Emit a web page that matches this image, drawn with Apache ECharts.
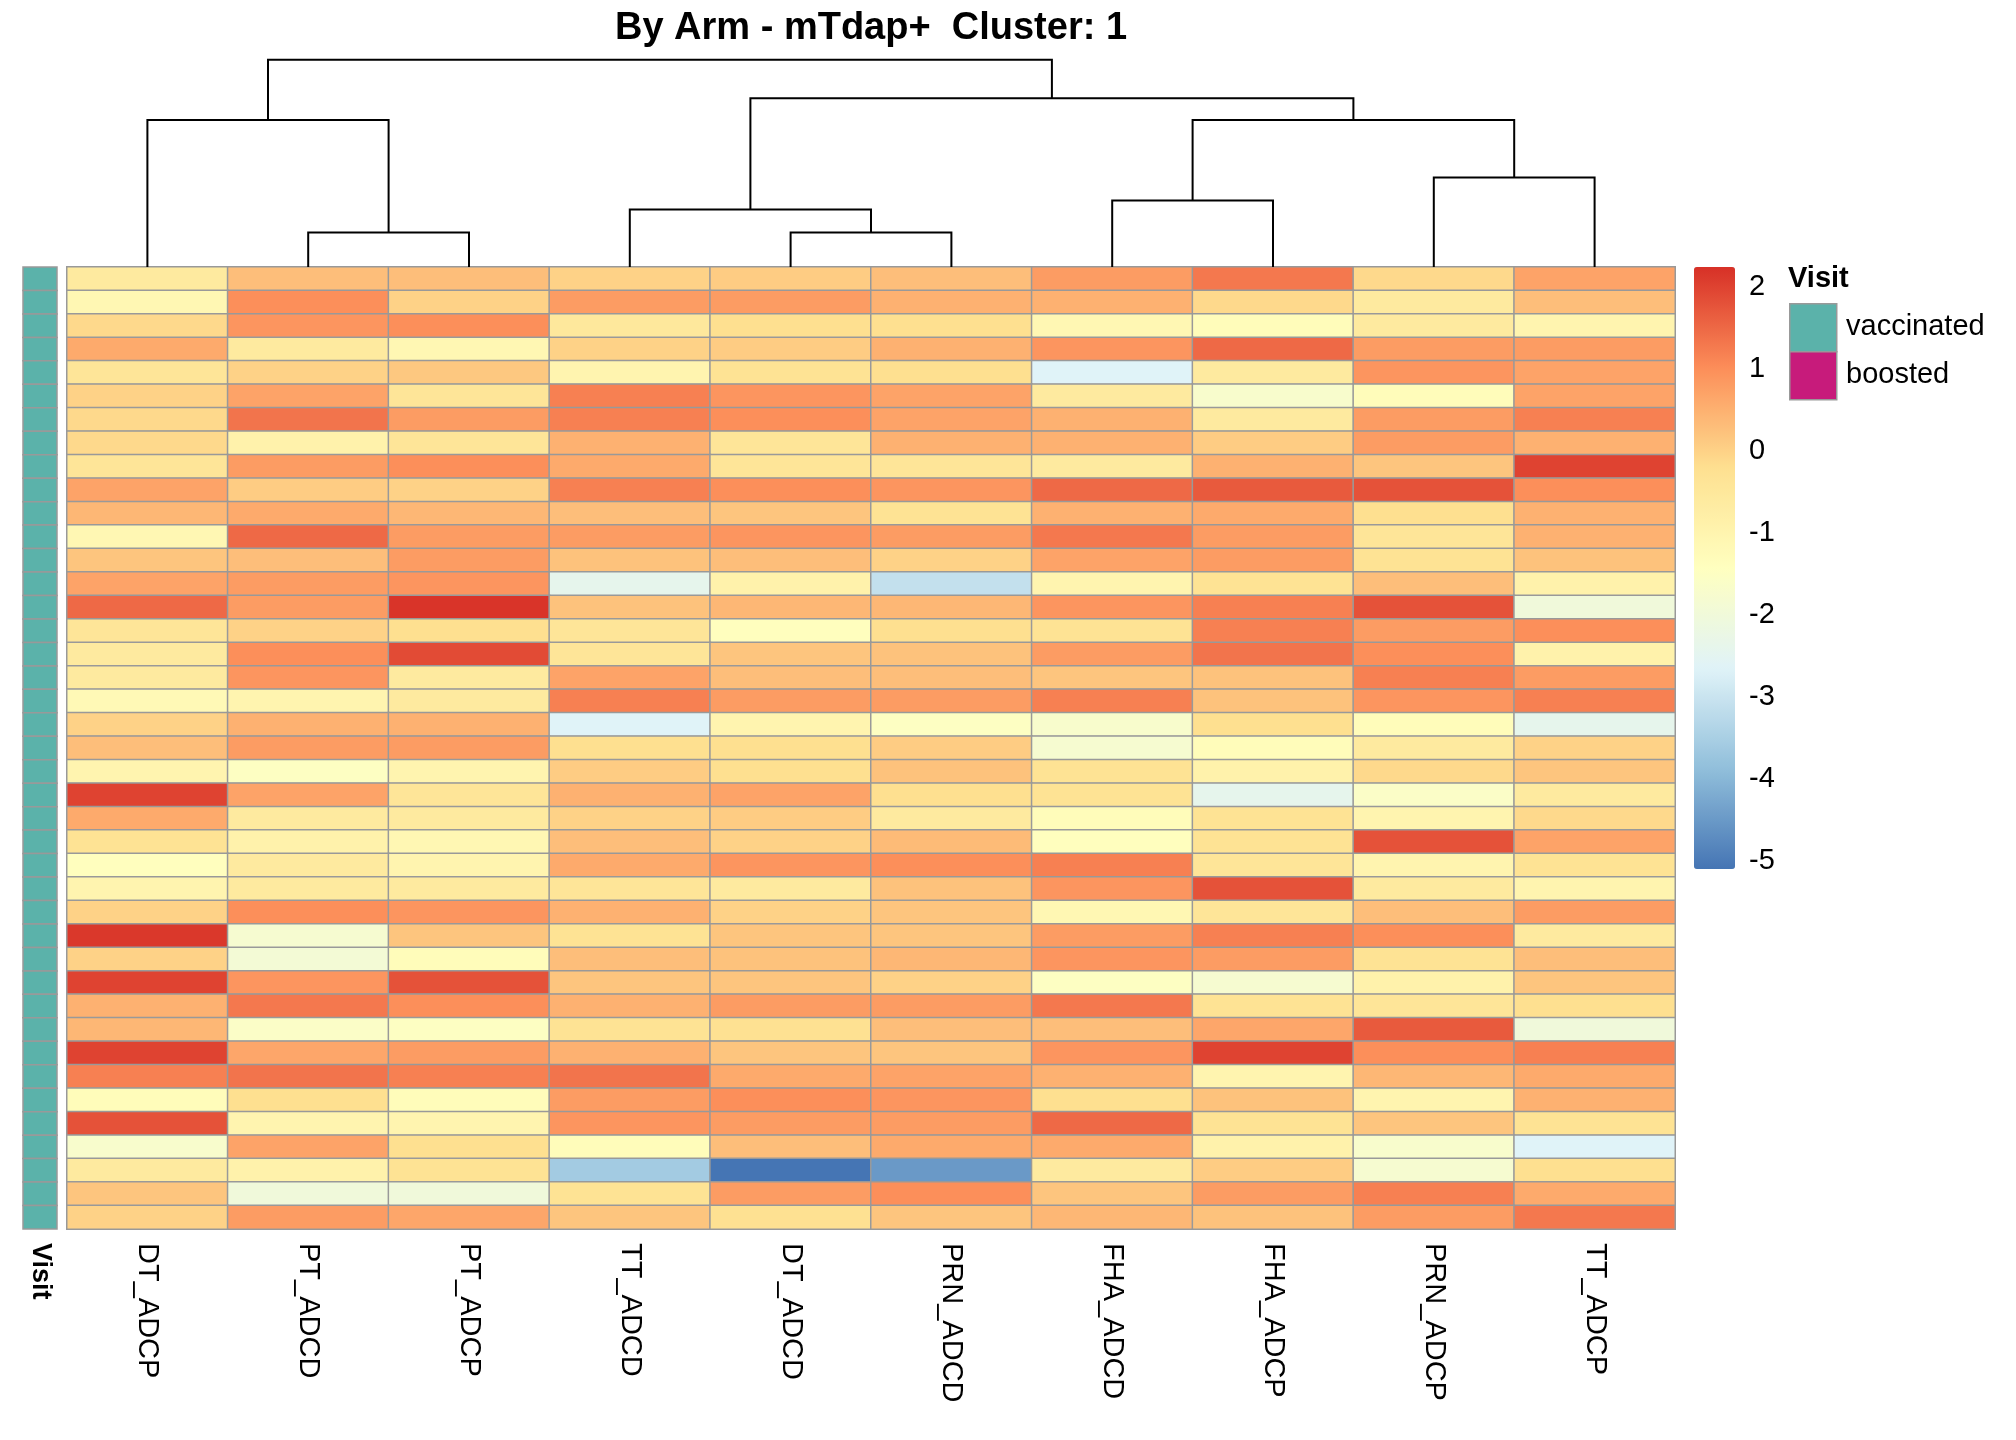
<!DOCTYPE html>
<html>
<head>
<meta charset="utf-8">
<script src="https://cdn.jsdelivr.net/npm/echarts@6/dist/echarts.min.js"></script>
<style>html,body{margin:0;background:#fff}#main{width:2016px;height:1440px}</style>
</head>
<body>
<div id="main"></div>
<script>
var columns = ['DT_ADCP','PT_ADCD','PT_ADCP','TT_ADCD','DT_ADCD','PRN_ADCD','FHA_ADCD','FHA_ADCP','PRN_ADCP','TT_ADCP'];
var values = [
  [-0.6,0.3,0.3,0,0.1,0.3,0.8,1.3,-0.1,0.7],
  [-1.1,1.0,0,0.8,0.8,0.5,0.5,-0.1,-0.6,0.3],
  [-0.1,0.9,1.0,-0.5,-0.2,-0.2,-1.1,-1.3,-0.6,-1.0],
  [0.6,-0.6,-1.1,0,0.1,0.5,0.9,1.5,0.8,0.8],
  [-0.4,0,0.15,-1.0,-0.3,-0.2,-2.65,-0.6,0.9,0.7],
  [0,0.7,-0.4,1.2,0.9,0.7,-0.6,-1.7,-1.3,0.7],
  [-0.1,1.35,0.8,1.2,1.0,0.7,0.5,-0.6,0.8,1.2],
  [-0.1,-0.9,-0.4,0.5,-0.4,0.5,0.5,0.1,0.8,0.5],
  [-0.4,0.8,1.0,0.6,-0.4,-0.4,-0.6,0.5,0.2,2.0],
  [0.7,0.1,0,1.2,1.0,0.9,1.5,1.7,1.8,1.0],
  [0.4,0.6,0.4,0.3,0.2,-0.3,0.5,0.6,-0.2,0.5],
  [-1.1,1.5,0.8,0.8,0.9,0.8,1.3,0.8,-0.4,0.5],
  [0.2,0.3,0.8,0.25,0.3,0,0.7,0.8,-0.3,0.25],
  [0.7,0.8,0.9,-2.4,-0.9,-3.1,-1.0,-0.3,0.3,-0.9],
  [1.5,0.8,2.2,0.25,0.4,0.4,0.9,1.2,1.8,-2.0],
  [-0.4,0,-0.2,-0.4,-1.4,-0.2,-0.3,1.2,0.8,1.0],
  [-0.6,1.0,1.9,-0.4,0.2,0.25,0.8,1.35,1.0,-0.9],
  [-0.6,0.9,-0.6,0.7,0.3,0.3,0.2,0.25,1.2,0.8],
  [-1.2,-1.0,-0.6,1.2,0.8,0.8,1.2,0.25,0.9,1.2],
  [0,0.5,0.5,-2.65,-1.0,-1.5,-1.7,-0.2,-1.3,-2.4],
  [0.3,0.8,0.8,-0.2,-0.2,0.1,-1.8,-1.3,-0.6,0],
  [-1.0,-1.5,-1.0,0.1,-0.2,0.25,-0.3,-0.9,-0.1,0.2],
  [2.0,0.7,-0.4,0.5,0.7,-0.2,-0.3,-2.4,-1.6,-0.6],
  [0.6,-0.6,-0.6,0,0.1,-0.6,-1.3,-0.3,-1.0,-0.1],
  [-0.3,-0.9,-1.1,0.3,0,0.35,-1.4,-0.3,1.8,0.7],
  [-1.4,-0.6,-1.0,0.6,0.9,1.0,1.2,-0.4,-1.0,-0.3],
  [-1.0,-0.6,-0.6,-0.4,-0.6,0.25,0.9,1.8,-0.6,-1.0],
  [0,1.0,0.9,0.5,0,0.2,-1.1,-0.4,0.3,0.8],
  [2.15,-1.8,0.2,-0.3,0.2,0.2,0.8,1.2,1.0,-0.6],
  [0,-1.9,-1.3,0.3,0.25,0.4,0.9,0.8,-0.3,0.3],
  [2.0,0.9,1.8,0.2,0.2,0,-1.5,-1.8,-0.9,0.2],
  [0.5,1.3,1.0,0.5,0.8,0.8,1.3,-0.3,-0.4,-0.2],
  [0.4,-1.6,-1.5,-0.3,-0.25,0.3,0.3,0.65,1.7,-2.0],
  [2.0,0.65,0.8,0.5,0.2,0.2,0.9,2.0,1.0,1.2],
  [1.2,1.35,1.2,1.35,0.6,0.7,0.5,-1.0,0.4,0.6],
  [-1.3,-0.2,-1.3,0.8,1.0,0.9,-0.2,0.25,-1.0,0.5],
  [1.8,-1.0,-1.0,0.9,0.8,0.8,1.5,-0.3,0.2,-0.3],
  [-1.7,0.7,-0.2,-1.3,0.3,0.6,0.6,-0.9,-1.7,-2.65],
  [-0.6,-0.9,-0.3,-3.6,-5.1,-4.5,-0.6,0.1,-1.8,-0.2],
  [0.2,-2.0,-2.0,-0.3,0.8,1.0,0.2,0.8,1.2,0.6],
  [0,0.8,0.65,0.2,-0.25,0.2,0.4,0.25,0.8,1.3]
];
// hclust-style merges: negative = leaf index (1-based, in display order), positive = earlier merge
var merges = [[-2,-3,27],[-5,-6,27],[-7,-8,52],[-9,-10,70],[-1,1,115],[-4,2,45],[3,4,115],[6,7,132],[5,8,162]];
var visit = [];
for (var r = 0; r < values.length; r++) visit.push('vaccinated');
var rowNames = values.map(function (v, i) { return 'S' + (i + 1); });
var scaleMin = -5.1, scaleMax = 2.25;
var palette = ['#4575B4','#91BFDB','#E0F3F8','#FFFFBF','#FEE090','#FC8D59','#D73027'];

var heatData = [];
values.forEach(function (row, r) {
  row.forEach(function (v, c) { heatData.push([c, r, v]); });
});

// dendrogram node positions
var nodes = [];
function nodeOf(id) {
  if (id < 0) return { x: -id - 0.5, h: 0 };
  return nodes[id - 1];
}
var dendroData = [];
merges.forEach(function (m) {
  var a = nodeOf(m[0]), b = nodeOf(m[1]);
  dendroData.push([a.x, b.x, m[2], a.h, b.h]);
  nodes.push({ x: (a.x + b.x) / 2, h: m[2] });
});

var chart = echarts.init(document.getElementById('main'));
var font = 'Liberation Sans, Arial, sans-serif';
chart.setOption({
  animation: false,
  textStyle: { fontFamily: font },
  title: { text: 'By Arm - mTdap+  Cluster: 1', left: 866, top: 5, textAlign: 'center',
    textStyle: { fontSize: 38, fontWeight: 'bold', color: '#000', fontFamily: font } },
  grid: [
    { left: 67, top: 267, width: 1608, height: 962 },
    { left: 23, top: 267, width: 34, height: 962 },
    { left: 67, top: 56, width: 1608, height: 211 },
    { left: 1694, top: 267, width: 41, height: 602 }
  ],
  xAxis: [
    { gridIndex: 0, type: 'category', data: columns, axisLine: { show: false }, axisTick: { show: false },
      axisLabel: { rotate: -90, fontSize: 29, color: '#000', margin: 14 } },
    { gridIndex: 1, type: 'category', data: ['Visit'], axisLine: { show: false }, axisTick: { show: false },
      axisLabel: { rotate: -90, fontSize: 27, fontWeight: 'bold', color: '#000', margin: 14 } },
    { gridIndex: 2, type: 'value', min: 0, max: 10, show: false },
    { gridIndex: 3, type: 'value', show: false }
  ],
  yAxis: [
    { gridIndex: 0, type: 'category', data: rowNames, inverse: true, show: false },
    { gridIndex: 1, type: 'category', data: rowNames, inverse: true, show: false },
    { gridIndex: 2, type: 'value', min: 0, max: 165, show: false },
    { gridIndex: 3, type: 'value', min: scaleMin, max: scaleMax, position: 'right',
      axisLine: { show: false }, axisTick: { show: false }, splitLine: { show: false },
      axisLabel: { fontSize: 29, color: '#000', margin: 14, showMinLabel: false, showMaxLabel: false } }
  ],
  visualMap: {
    type: 'continuous', seriesIndex: 0, min: scaleMin, max: scaleMax, calculable: false,
    left: 1694, top: 267, itemWidth: 41, itemHeight: 602, padding: 0, text: null,
    inRange: { color: palette }
  },
  series: [
    { type: 'heatmap', xAxisIndex: 0, yAxisIndex: 0, data: heatData,
      itemStyle: { borderColor: '#999', borderWidth: 1.5 } },
    { type: 'custom', xAxisIndex: 1, yAxisIndex: 1,
      data: visit.map(function (v, i) { return [0, i]; }),
      renderItem: function (params, api) {
        var p = api.coord([api.value(0), api.value(1)]);
        var s = api.size([1, 1]);
        return { type: 'rect', shape: { x: p[0] - s[0] / 2, y: p[1] - s[1] / 2, width: s[0], height: s[1] },
          style: { fill: '#5BB2AA', stroke: '#999', lineWidth: 1.5 } };
      } },
    { type: 'custom', xAxisIndex: 2, yAxisIndex: 2, data: dendroData,
      renderItem: function (params, api) {
        var x1 = api.value(0), x2 = api.value(1), h = api.value(2), h1 = api.value(3), h2 = api.value(4);
        var pts = [api.coord([x1, h1]), api.coord([x1, h]), api.coord([x2, h]), api.coord([x2, h2])];
        return { type: 'polyline', shape: { points: pts }, style: { stroke: '#000', lineWidth: 2, fill: null } };
      } }
  ],
  graphic: [
    { type: 'text', left: 1788, top: 264, style: { text: 'Visit', fontSize: 29, fontWeight: 'bold', fill: '#000', fontFamily: font } },
    { type: 'rect', left: 1789, top: 303, shape: { width: 47, height: 48 }, style: { fill: '#5BB2AA', stroke: '#999', lineWidth: 1.5 } },
    { type: 'rect', left: 1789, top: 351, shape: { width: 47, height: 48 }, style: { fill: '#C71B7B', stroke: '#999', lineWidth: 1.5 } },
    { type: 'text', left: 1846, top: 312, style: { text: 'vaccinated', fontSize: 29, fill: '#000', fontFamily: font } },
    { type: 'text', left: 1846, top: 360, style: { text: 'boosted', fontSize: 29, fill: '#000', fontFamily: font } }
  ]
});
</script>
</body>
</html>
